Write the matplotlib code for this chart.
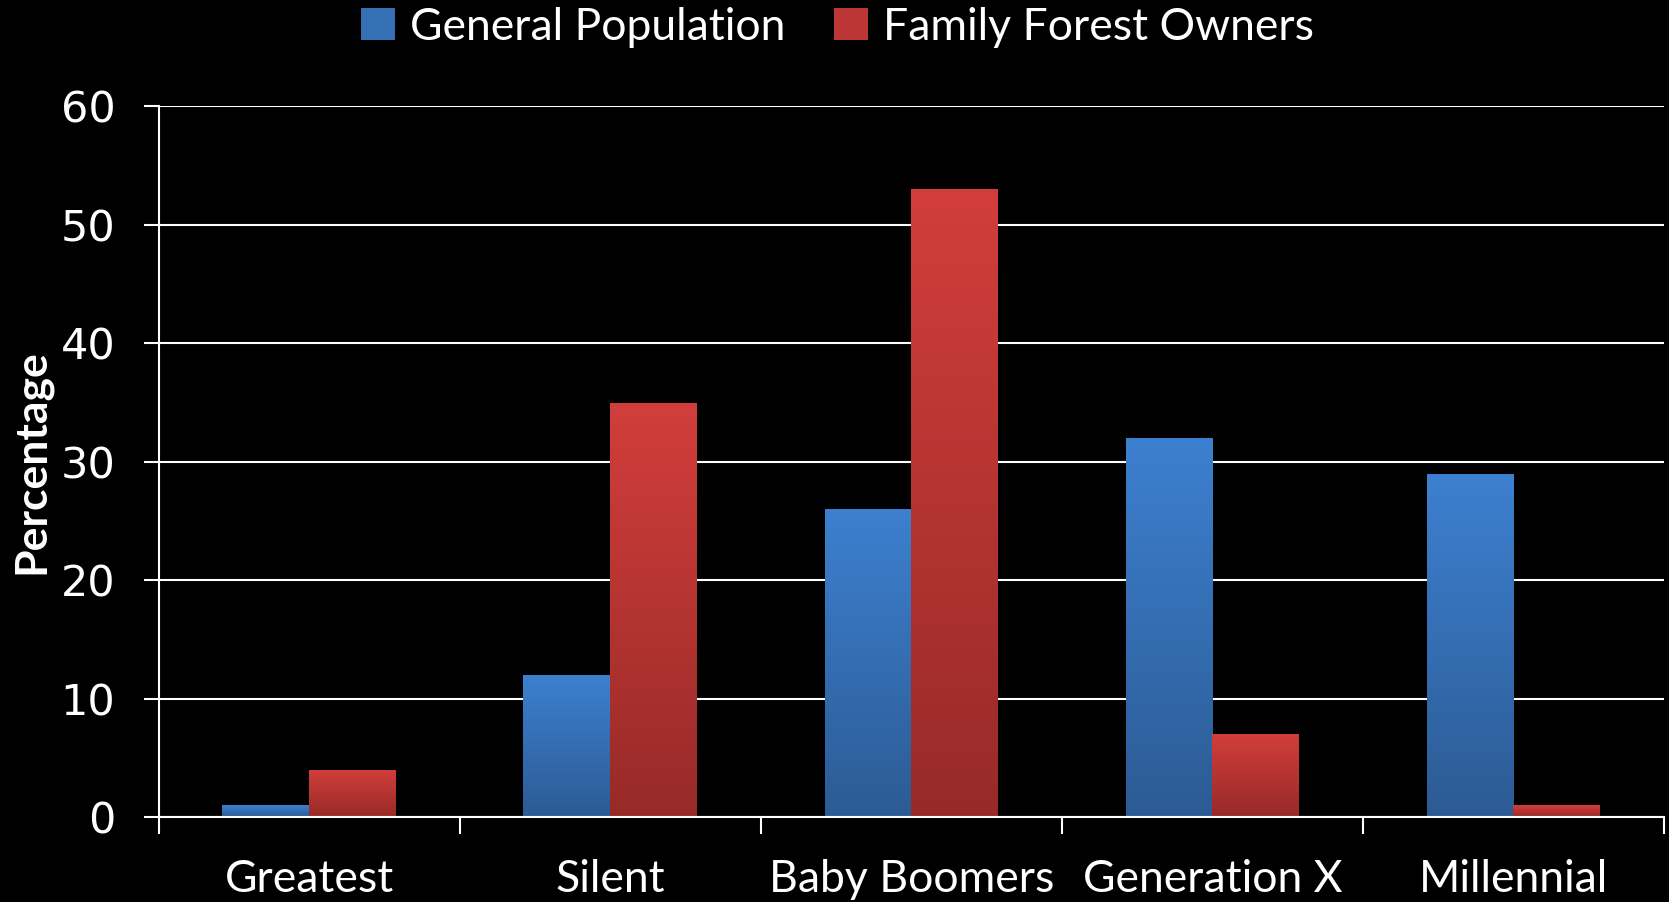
import numpy as np
import matplotlib
matplotlib.use("Agg")
from matplotlib import pyplot as plt
from matplotlib.colors import LinearSegmentedColormap
from matplotlib.patches import Patch

# data
generations = ["Greatest", "Silent", "Baby Boomers", "Generation X", "Millennial"]
general_population = [1, 12, 26, 32, 29]
family_forest_owners = [4, 35, 53, 7, 1]
series_names = ["General Population", "Family Forest Owners"]

plt.rcParams['font.family'] = ['Lato', 'DejaVu Sans']

fig = plt.figure(figsize=(16.69, 9.02), dpi=100, facecolor='black')
ax = fig.add_axes([0.095, 0.094, 0.902, 0.788])
ax.set_facecolor('black')

x = np.arange(len(generations))
w = 0.288

blue_cmap = LinearSegmentedColormap.from_list('b', ['#2c5b94', '#3d80d0'])
red_cmap = LinearSegmentedColormap.from_list('r', ['#972a28', '#d23e3b'])

bars_gp = ax.bar(x - w / 2, general_population, w, color='#3570b5', zorder=3)
bars_ff = ax.bar(x + w / 2, family_forest_owners, w, color='#bb3634', zorder=3)

# vertical gradient on each bar
grad = np.linspace(0, 1, 256).reshape(-1, 1)
for bars, cmap in [(bars_gp, blue_cmap), (bars_ff, red_cmap)]:
    for b in bars:
        x0, y0 = b.get_x(), b.get_y()
        x1, y1 = x0 + b.get_width(), y0 + b.get_height()
        im = ax.imshow(grad, cmap=cmap, origin='lower', aspect='auto',
                       extent=[x0, x1, y0, y1], zorder=4)
        im.set_clip_path(b)

ax.set_xlim(-0.5, len(generations) - 0.5)
ax.set_ylim(0, 60)
ax.set_yticks(range(0, 61, 10))

# category labels between boundary ticks
ax.set_xticks(np.arange(-0.5, len(generations), 1.0))
ax.set_xticklabels([])
ax.set_xticks(x, minor=True)
ax.set_xticklabels(generations, minor=True)
ax.tick_params(axis='x', which='minor', length=0, pad=30, labelsize=32, colors='white')
ax.tick_params(axis='x', which='major', length=12, width=1.5, direction='out', colors='white')
ax.tick_params(axis='y', length=11, width=1.5, colors='white', labelsize=31, pad=20)
for t in ax.get_yticklabels():
    t.set_family(['DejaVu Sans'])

ax.grid(axis='y', color='white', linewidth=1.5, zorder=1)
for s in ['top', 'right']:
    ax.spines[s].set_visible(False)
for s in ['left', 'bottom']:
    ax.spines[s].set_color('white')
    ax.spines[s].set_linewidth(1.5)
ax.spines['bottom'].set_zorder(5)

ax.set_ylabel('Percentage', color='white', fontsize=32, fontweight='bold', labelpad=7)

handles = [Patch(facecolor='#3570b5'), Patch(facecolor='#bb3634')]
fig.legend(handles, series_names, loc='center', bbox_to_anchor=(0.502, 0.970),
           ncol=2, frameon=False, fontsize=32, labelcolor='white',
           handlelength=0.75, handleheight=0.75, handletextpad=0.35, columnspacing=1.1)

fig.savefig('out.png', dpi=100, facecolor='black')
